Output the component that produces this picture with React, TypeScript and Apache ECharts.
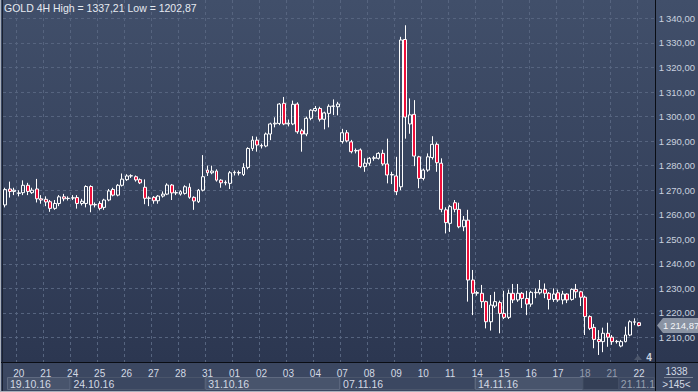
import React, { useEffect, useRef } from "react";
import * as echarts from "echarts";

// ---------- data ----------
const title = "GOLD 4H High = 1337,21 Low = 1202,87";
const days = ["19.10", "20.10", "21.10", "24.10", "25.10", "26.10", "27.10", "28.10", "31.10", "01.11", "02.11", "03.11", "04.11", "07.11", "08.11", "09.11", "10.11", "11.11", "14.11", "15.11", "16.11", "17.11", "18.11", "21.11", "22.11"];
const candlesPerDay = [3, 6, 6, 6, 6, 6, 6, 6, 6, 6, 6, 6, 6, 6, 6, 6, 6, 6, 6, 6, 6, 6, 6, 6, 1];
const emptySlots = 3;
const weekLabels = ["19.10.16", "24.10.16", "31.10.16", "07.11.16", "14.11.16", "21.11.16"];
const weekStartDays = ["19.10", "24.10", "31.10", "07.11", "14.11", "21.11"];
const dimmedDays = ["18.11", "21.11"];
const counterTop = "1338";
const counterBottom = ">145<";
const zoomMark = "4";

const opens = [
  1264, 1270.5, 1269.5, 1268.7, 1269, 1272, 1269, 1270.5, 1266.5, 1266.3,
  1265.3, 1262.6, 1264.6, 1267.3, 1266.6, 1266.8, 1267, 1264.6, 1264.6, 1271.5,
  1264, 1264.6, 1263, 1266, 1270.3, 1268, 1272, 1274.3, 1275.8, 1275.5,
  1274.3, 1271.2, 1266.7, 1267.1, 1265.7, 1267.6, 1268.4, 1272.1, 1268.9, 1268.4,
  1268.7, 1271.2, 1267.1, 1265.3, 1270, 1278.2, 1277.1, 1277.8, 1274.1, 1273,
  1272.8, 1277.1, 1277.2, 1276.4, 1279.3, 1287, 1290.4, 1288.2, 1288, 1292.9,
  1297, 1297.2, 1305.4, 1297, 1297, 1305.1, 1294.2, 1292.9, 1299.3, 1302.4,
  1303.3, 1298.9, 1301.3, 1304.2, 1304, 1289.8, 1293.4, 1289.7, 1286, 1286.4,
  1279.6, 1281, 1283, 1283, 1285, 1280.7, 1276.2, 1275.8, 1271.4, 1331.4,
  1297, 1300.9, 1283.6, 1274.8, 1278.2, 1283.3, 1288.7, 1281, 1262, 1256.5,
  1264.9, 1262.2, 1255.1, 1257.8, 1233.4, 1228, 1228, 1224.6, 1216.4, 1222.8,
  1224.2, 1219.8, 1218.2, 1228, 1225.3, 1228, 1225.9, 1223.6, 1228.4, 1228.2,
  1229.6, 1228, 1225.5, 1228.2, 1225.3, 1227.7, 1225.5, 1229.6, 1228.6, 1226.4,
  1218.5, 1214.1, 1209.2, 1208.3, 1211.7, 1210.1, 1208.3, 1206.5, 1208.3, 1211,
  1216.2, 1216
];
const closes = [
  1270.3, 1269.5, 1270, 1268.9, 1272, 1269.5, 1270, 1266.5, 1266, 1265.2,
  1262.6, 1264.6, 1267.3, 1266.5, 1266.7, 1266.9, 1264.6, 1265.5, 1271.5, 1264,
  1264.2, 1262.6, 1266, 1269.7, 1268, 1272, 1274.5, 1275.8, 1275.9, 1274.2,
  1273, 1266.7, 1266.8, 1265.7, 1267.6, 1268.4, 1272.1, 1268.9, 1269, 1269.4,
  1271.4, 1267.1, 1265.6, 1270, 1275.5, 1277.1, 1277.8, 1274.1, 1273, 1273.2,
  1277.1, 1277.3, 1277, 1279.3, 1287, 1290.4, 1288.4, 1288, 1292.9, 1297,
  1297.3, 1305.1, 1297, 1297.3, 1305, 1293.8, 1292.9, 1299.3, 1302.6, 1303.3,
  1298.9, 1301.5, 1304.2, 1304.3, 1305.1, 1293.4, 1290.1, 1285.7, 1286.2, 1279.6,
  1281, 1283, 1283.2, 1285, 1280.7, 1276.2, 1276.4, 1269.4, 1331.2, 1299.8,
  1300.7, 1283.9, 1274.8, 1278.2, 1283.6, 1288.7, 1281.2, 1262.2, 1256.8, 1263.3,
  1262.2, 1255.1, 1257.8, 1233.4, 1228, 1228.3, 1224.6, 1216.4, 1223.2, 1224.6,
  1219.8, 1218.2, 1228, 1225.3, 1228, 1225.9, 1223.6, 1228.4, 1228.2, 1229.6,
  1228, 1225.5, 1227.7, 1225.3, 1227.7, 1225.3, 1229.6, 1228.6, 1226.4, 1218.5,
  1213.7, 1209.2, 1208.3, 1211.7, 1210.1, 1208.3, 1208.4, 1208.3, 1211, 1216.4,
  1216.4, 1214.87
];
const lows = [
  1263, 1267, 1268, 1267.5, 1268, 1268, 1268.5, 1265, 1264.5, 1263.5,
  1261.2, 1262, 1263.5, 1265.5, 1265.8, 1266, 1262.5, 1263.8, 1263, 1261,
  1263, 1261.8, 1262, 1265.5, 1267.5, 1267.5, 1271.5, 1273.8, 1275, 1273.5,
  1272.5, 1264.3, 1263.5, 1264.5, 1264.5, 1267, 1268, 1266, 1268, 1267.8,
  1268.2, 1266.5, 1262, 1264.8, 1269.5, 1275.8, 1276.5, 1273.5, 1271, 1272,
  1270.5, 1276, 1276, 1275.8, 1278.5, 1286, 1285.7, 1287, 1287.5, 1290.4,
  1295.6, 1296.5, 1296.5, 1296, 1296.5, 1293, 1285.7, 1292, 1298.5, 1302,
  1298, 1294.8, 1295.6, 1300.6, 1300.5, 1289, 1289.5, 1285, 1285, 1279,
  1277.5, 1280, 1282, 1282.5, 1280, 1272.8, 1272.5, 1268, 1270, 1291,
  1293, 1279.8, 1270.8, 1274, 1277.5, 1282.5, 1277.5, 1261, 1252.4, 1253,
  1261, 1254.5, 1253.3, 1224.6, 1219.1, 1227, 1222, 1213.7, 1212.8, 1222,
  1211.7, 1217.5, 1217.5, 1224, 1224.5, 1222, 1219.1, 1222.5, 1226, 1227.5,
  1226, 1221.4, 1224.5, 1224.5, 1223.5, 1224, 1225, 1226, 1222.8, 1211,
  1213, 1205.6, 1202.87, 1204, 1206.2, 1207, 1207.5, 1206, 1208, 1210.5,
  1215, 1214.5
];
const highs = [
  1271, 1273.5, 1271, 1270, 1274, 1273, 1271, 1274.6, 1268, 1267.5,
  1266, 1266, 1268, 1268.5, 1267.5, 1268, 1268, 1266.5, 1272, 1272,
  1265, 1265.5, 1266.5, 1270.5, 1271, 1272.5, 1276.8, 1276.5, 1276.5, 1276,
  1274.8, 1274.4, 1267.5, 1267.6, 1268, 1269.5, 1272.8, 1272.5, 1270, 1270,
  1272, 1272.8, 1267.5, 1270.5, 1284.3, 1280, 1280, 1278.5, 1274.5, 1274,
  1277.8, 1278, 1278, 1281, 1287.5, 1292, 1291.8, 1289, 1293.5, 1297.5,
  1299.7, 1305.5, 1308, 1298.8, 1306.5, 1305.8, 1295, 1300, 1303, 1304.3,
  1304, 1302, 1305, 1307, 1306, 1295, 1294.5, 1290.5, 1287, 1287,
  1283, 1283.5, 1284, 1285.5, 1286.5, 1291, 1277.5, 1283.6, 1332.5, 1337.21,
  1307.4, 1306.7, 1284, 1278.8, 1285, 1292, 1289.5, 1283, 1263, 1264,
  1266, 1264.9, 1259.5, 1262, 1237.5, 1229, 1231.4, 1225, 1227.3, 1228.6,
  1225, 1229, 1229.5, 1231.8, 1231.8, 1228.5, 1229, 1229, 1230, 1233.4,
  1232, 1228.5, 1230, 1229.5, 1229, 1228, 1230, 1231.8, 1229, 1227,
  1219, 1215.5, 1213, 1214, 1216, 1211, 1209, 1209, 1214.4, 1217,
  1217.8, 1216.3
];
const yMin = 1200;
const yMax = 1347.5;
const yStep = 10;

// ---------- layout / style ----------
const W = 698;
const H = 392;
const GRID_LEFT = 3;
const GRID_RIGHT = 43;
const GRID_TOP = 0;
const GRID_BOTTOM = 30;
const FONT = "'Liberation Sans', Arial, sans-serif";
const TEXT = "#d3d9e4";
const GRIDLINE = "#56647f";
const STRIP = "#3b4761";

const fmtPrice = (v: number) => {
  const [i, f] = v.toFixed(2).split(".");
  const ii = i.length > 3 ? i.slice(0, -3) + "\u2009" + i.slice(-3) : i;
  return ii + "," + f;
};

export default function App() {
  const ref = useRef<HTMLDivElement>(null);

  useEffect(() => {
    if (!ref.current) return;
    const chart = echarts.init(ref.current, undefined, { renderer: "svg", width: W, height: H });

    const categories: string[] = [];
    const dayStart: Record<string, number> = {};
    days.forEach((d, di) => {
      dayStart[d] = categories.length;
      for (let k = 0; k < candlesPerDay[di]; k++) categories.push(d + "#" + k);
    });
    for (let k = 0; k < emptySlots; k++) categories.push("x#" + k);
    const startIdx = new Set(days.slice(1).map((d) => dayStart[d]));

    const data = opens.map((o, i) => [o, closes[i], lows[i], highs[i]]);

    chart.setOption({
      animation: false,
      backgroundColor: "transparent",
      grid: { left: GRID_LEFT, right: GRID_RIGHT, top: GRID_TOP, bottom: GRID_BOTTOM },
      xAxis: {
        type: "category",
        data: categories,
        boundaryGap: true,
        axisLine: { show: true, lineStyle: { color: "#0a0d14", width: 1 } },
        axisTick: { show: false },
        axisLabel: {
          interval: (i: number) => startIdx.has(i),
          formatter: (v: string) => v.split(".")[0],
          color: (v: string) => (dimmedDays.includes(v.split("#")[0]) ? "#939cad" : TEXT),
          fontSize: 10,
          fontFamily: FONT,
          margin: 6,
        },
        splitLine: {
          show: true,
          interval: (i: number) => startIdx.has(i),
          lineStyle: { color: GRIDLINE, type: [3, 3], width: 1 },
        },
      },
      yAxis: {
        type: "value",
        position: "right",
        min: yMin,
        max: yMax,
        interval: yStep,
        axisLine: { show: true, lineStyle: { color: "#0a0d14", width: 1 } },
        axisTick: { show: false },
        axisLabel: {
          formatter: fmtPrice,
          color: "#c9d1df",
          fontSize: 9.5,
          fontFamily: FONT,
          margin: 4,
          showMinLabel: false,
          showMaxLabel: false,
        },
        splitLine: {
          show: true,
          showMinLine: false,
          showMaxLine: false,
          lineStyle: { color: GRIDLINE, type: [3, 3], width: 1 },
        },
      },
      series: [
        {
          type: "candlestick",
          data,
          barWidth: 3.4,
          silent: true,
          itemStyle: {
            color: "rgba(0,0,0,0)",
            color0: "#ee0f3a",
            borderColor: "#ffffff",
            borderColor0: "#ffffff",
            borderWidth: 1,
          },
        },
      ],
    });

    // decorations tied to axis positions
    const c0 = chart.convertToPixel({ xAxisIndex: 0 }, 0) as number;
    const c1 = chart.convertToPixel({ xAxisIndex: 0 }, 1) as number;
    const band = c1 - c0;
    const edge = (i: number) => c0 - band / 2 + i * band;
    const plotRight = W - GRID_RIGHT;
    const plotBottom = H - GRID_BOTTOM;
    const rowTop = plotBottom + 15;
    const lastClose = closes[closes.length - 1];
    const tagY = chart.convertToPixel({ yAxisIndex: 0 }, lastClose) as number;

    const g: any[] = [];
    weekLabels.forEach((lab, wi) => {
      const s = dayStart[weekStartDays[wi]];
      const e = wi + 1 < weekStartDays.length ? dayStart[weekStartDays[wi + 1]] : categories.length;
      const x0 = Math.max(edge(s), GRID_LEFT + 4);
      const x1 = Math.min(edge(e), plotRight);
      const light = wi % 2 === 0 && wi < weekLabels.length - 1;
      g.push({
        type: "rect",
        shape: { x: x0 + 0.5, y: rowTop + 0.5, width: x1 - x0 - 1, height: H - rowTop - 3 },
        style: { fill: light ? "#48546c" : STRIP, stroke: light ? "#5f6a80" : "#4a556b", lineWidth: 1 },
      });
    });
    const dimStart = edge(dayStart[dimmedDays[0]]);
    const dimEnd = edge(dayStart[dimmedDays[1]] + 2);
    g.push({
      type: "rect",
      shape: { x: dimStart, y: rowTop + 0.5, width: dimEnd - dimStart, height: H - rowTop - 3 },
      style: { fill: "#343f56", stroke: "#4a556b", lineWidth: 1 },
    });
    weekLabels.forEach((lab, wi) => {
      const s = dayStart[weekStartDays[wi]];
      let x = Math.max(edge(s), GRID_LEFT + 4) + 3;
      if (wi === weekLabels.length - 1) x = dimEnd + 2;
      g.push({
        type: "text",
        x,
        y: rowTop + 7,
        style: {
          text: lab,
          fill: wi === weekLabels.length - 1 ? "#97a0b0" : TEXT,
          font: `10.5px ${FONT}`,
          verticalAlign: "middle",
        },
      });
    });
    // bottom-right counter box
    g.push({
      type: "rect",
      shape: { x: plotRight + 1, y: plotBottom + 1, width: W - plotRight - 1, height: H - plotBottom - 1 },
      style: { fill: STRIP },
    });
    g.push({ type: "line", shape: { x1: plotRight + 9, y1: plotBottom + 15.5, x2: W - 5, y2: plotBottom + 15.5 }, style: { stroke: "#7c8597", lineWidth: 1 } });
    g.push({ type: "text", x: (plotRight + W) / 2, y: plotBottom + 9, style: { text: counterTop, fill: TEXT, font: `10px ${FONT}`, align: "center", verticalAlign: "middle" } });
    g.push({ type: "text", x: (plotRight + W) / 2, y: plotBottom + 22, style: { text: counterBottom, fill: TEXT, font: `10px ${FONT}`, align: "center", verticalAlign: "middle" } });
    // last price tag
    g.push({
      type: "polygon",
      shape: { points: [[plotRight + 2, tagY], [plotRight + 8, tagY - 7.5], [W, tagY - 7.5], [W, tagY + 7.5], [plotRight + 8, tagY + 7.5]] },
      style: { fill: "#8a93a3" },
    });
    g.push({ type: "text", x: plotRight + 8, y: tagY, style: { text: fmtPrice(lastClose), fill: "#f3f5f8", font: `9.5px ${FONT}`, verticalAlign: "middle" } });
    // frame lines
    g.push({ type: "line", shape: { x1: plotRight + 0.5, y1: 0, x2: plotRight + 0.5, y2: H }, style: { stroke: "#0a0d14", lineWidth: 1 } });
    g.push({ type: "line", shape: { x1: 0, y1: plotBottom + 0.5, x2: W, y2: plotBottom + 0.5 }, style: { stroke: "#0a0d14", lineWidth: 1 } });
    g.push({ type: "line", shape: { x1: 2.5, y1: 0, x2: 2.5, y2: H }, style: { stroke: "#1a2130", lineWidth: 1 } });
    g.push({ type: "line", shape: { x1: 0.5, y1: 0, x2: 0.5, y2: H }, style: { stroke: "#a9b0bc", lineWidth: 1 } });
    g.push({ type: "line", shape: { x1: 0, y1: H - 0.5, x2: W, y2: H - 0.5 }, style: { stroke: "#a9b0bc", lineWidth: 1 } });
    // zoom marker
    g.push({ type: "polygon", shape: { points: [[plotRight - 21, plotBottom - 2], [plotRight - 17, plotBottom - 7], [plotRight - 13, plotBottom - 2]] }, style: { fill: "#4c566b" } });
    g.push({ type: "text", x: plotRight - 6, y: plotBottom - 5, style: { text: zoomMark, fill: "#c9d1df", font: `bold 10px ${FONT}`, align: "center", verticalAlign: "middle" } });
    // title
    g.push({ type: "text", x: 4, y: 8, style: { text: title, fill: "#e6eaf1", font: `10.5px ${FONT}`, verticalAlign: "middle" } });

    chart.setOption({ graphic: g });

    return () => chart.dispose();
  }, []);

  return (
    <div
      style={{
        position: "fixed",
        left: 0,
        top: 0,
        width: W,
        height: H,
        background: "linear-gradient(180deg, #414f6a 0%, #2c3751 92%)",
      }}
    >
      <div style={{ position: "absolute", left: 0, top: H - GRID_BOTTOM, width: W, height: GRID_BOTTOM, background: STRIP }} />
      <div ref={ref} style={{ position: "absolute", left: 0, top: 0, width: W, height: H }} />
    </div>
  );
}
